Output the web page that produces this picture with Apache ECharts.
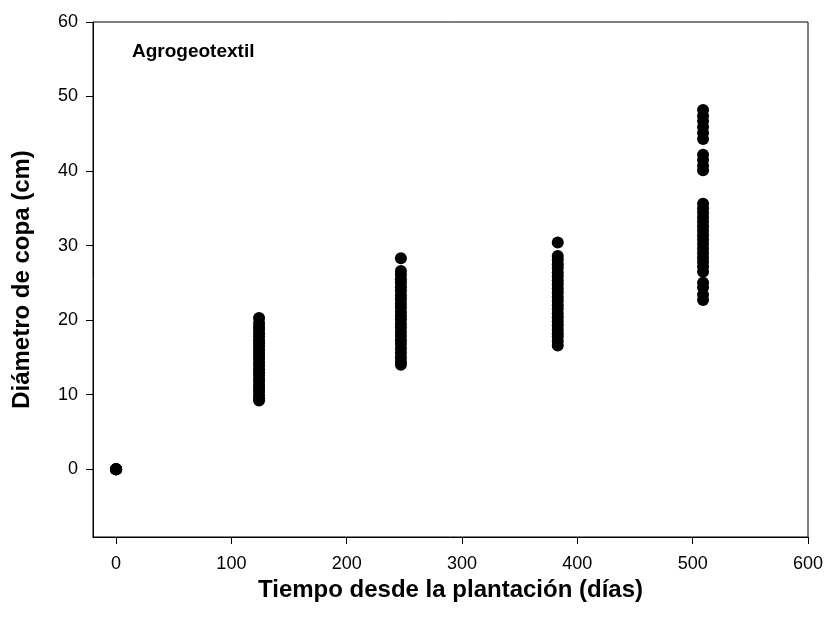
<!DOCTYPE html>
<html>
<head>
<meta charset="utf-8">
<script src="https://cdn.jsdelivr.net/npm/echarts@6/dist/echarts.min.js"></script>
<style>
  html, body { margin: 0; padding: 0; background: #fff; }
  #chart { width: 829px; height: 622px; }
</style>
</head>
<body>
<div id="chart"></div>
<script>
// días de medición
const days = [0, 124, 247, 383, 509];
// diámetro de copa (cm) en cada fecha
const diam0 = [0, 0, 0, 0, 0, 0];
const diam124 = [20.3, 19.6, 19.1, 18.7, 18.2, 17.8, 17.3, 16.9, 16.5, 16.0, 15.6, 15.2, 14.8,
  14.3, 13.9, 13.4, 13.0, 12.6, 12.1, 11.7, 11.2, 10.8, 10.4, 9.9, 9.5, 9.2];
const diam247 = [28.3, 26.6, 26.1, 25.5, 25.0, 24.4, 23.9, 23.3, 22.8, 22.2, 21.7, 21.1, 20.6,
  20.1, 19.5, 19.0, 18.4, 17.9, 17.3, 16.8, 16.2, 15.6, 15.0, 14.4, 14.0];
const diam383 = [30.4, 28.6, 28.1, 27.5, 27.0, 26.4, 25.9, 25.3, 24.8, 24.2, 23.7, 23.1, 22.6,
  22.0, 21.5, 20.9, 20.4, 19.8, 19.3, 18.7, 18.2, 17.8, 17.2, 16.6];
const diam509 = [48.2, 47.4, 46.7, 45.9, 45.1, 44.3, 42.2, 41.5, 40.7, 40.1, 35.6, 35.0, 34.4,
  33.8, 33.2, 32.6, 32.0, 31.4, 30.8, 30.2, 29.6, 29.0, 28.4, 27.8, 27.2, 26.5, 25.0, 24.4,
  23.4, 22.7];
const xTicks = [0, 100, 200, 300, 400, 500, 600];
const yTicks = [0, 10, 20, 30, 40, 50, 60];

const groups = [diam0, diam124, diam247, diam383, diam509];
const points = [];
groups.forEach((vals, i) => {
  vals.forEach(v => points.push([days[i], v]));
});

const font = "'Liberation Sans', Arial, sans-serif";
const chart = echarts.init(document.getElementById('chart'));
chart.setOption({
  animation: false,
  grid: {
    left: 93, right: 21, top: 22, bottom: 85,
    show: true, borderColor: '#000', borderWidth: 1, backgroundColor: 'transparent'
  },
  xAxis: {
    type: 'value',
    min: -20, max: 600,
    name: 'Tiempo desde la plantación (días)',
    nameLocation: 'middle',
    nameGap: 33,
    nameTextStyle: { fontFamily: font, fontSize: 24, fontWeight: 'bold', color: '#000' },
    axisLine: { show: true, onZero: false, lineStyle: { color: '#000', width: 1 } },
    axisTick: { show: true, length: 7, customValues: xTicks, lineStyle: { color: '#000' } },
    axisLabel: { customValues: xTicks, margin: 18, fontFamily: font, fontSize: 18, color: '#000' },
    splitLine: { show: false }
  },
  yAxis: {
    type: 'value',
    min: -9.1, max: 60,
    name: 'Diámetro de copa (cm)',
    nameLocation: 'middle',
    nameGap: 59,
    nameTextStyle: { fontFamily: font, fontSize: 24, fontWeight: 'bold', color: '#000' },
    axisLine: { show: true, onZero: false, lineStyle: { color: '#000', width: 1 } },
    axisTick: { show: true, length: 7, customValues: yTicks, lineStyle: { color: '#000' } },
    axisLabel: { customValues: yTicks, margin: 15, fontFamily: font, fontSize: 18, color: '#000' },
    splitLine: { show: false }
  },
  graphic: [{
    type: 'text',
    left: 132, top: 42,
    style: { text: 'Agrogeotextil', font: 'bold 19px ' + font, fill: '#000' }
  }],
  series: [{
    type: 'scatter',
    data: points,
    symbol: 'circle',
    symbolSize: 12,
    itemStyle: { color: '#000', opacity: 1 }
  }]
});
</script>
</body>
</html>
